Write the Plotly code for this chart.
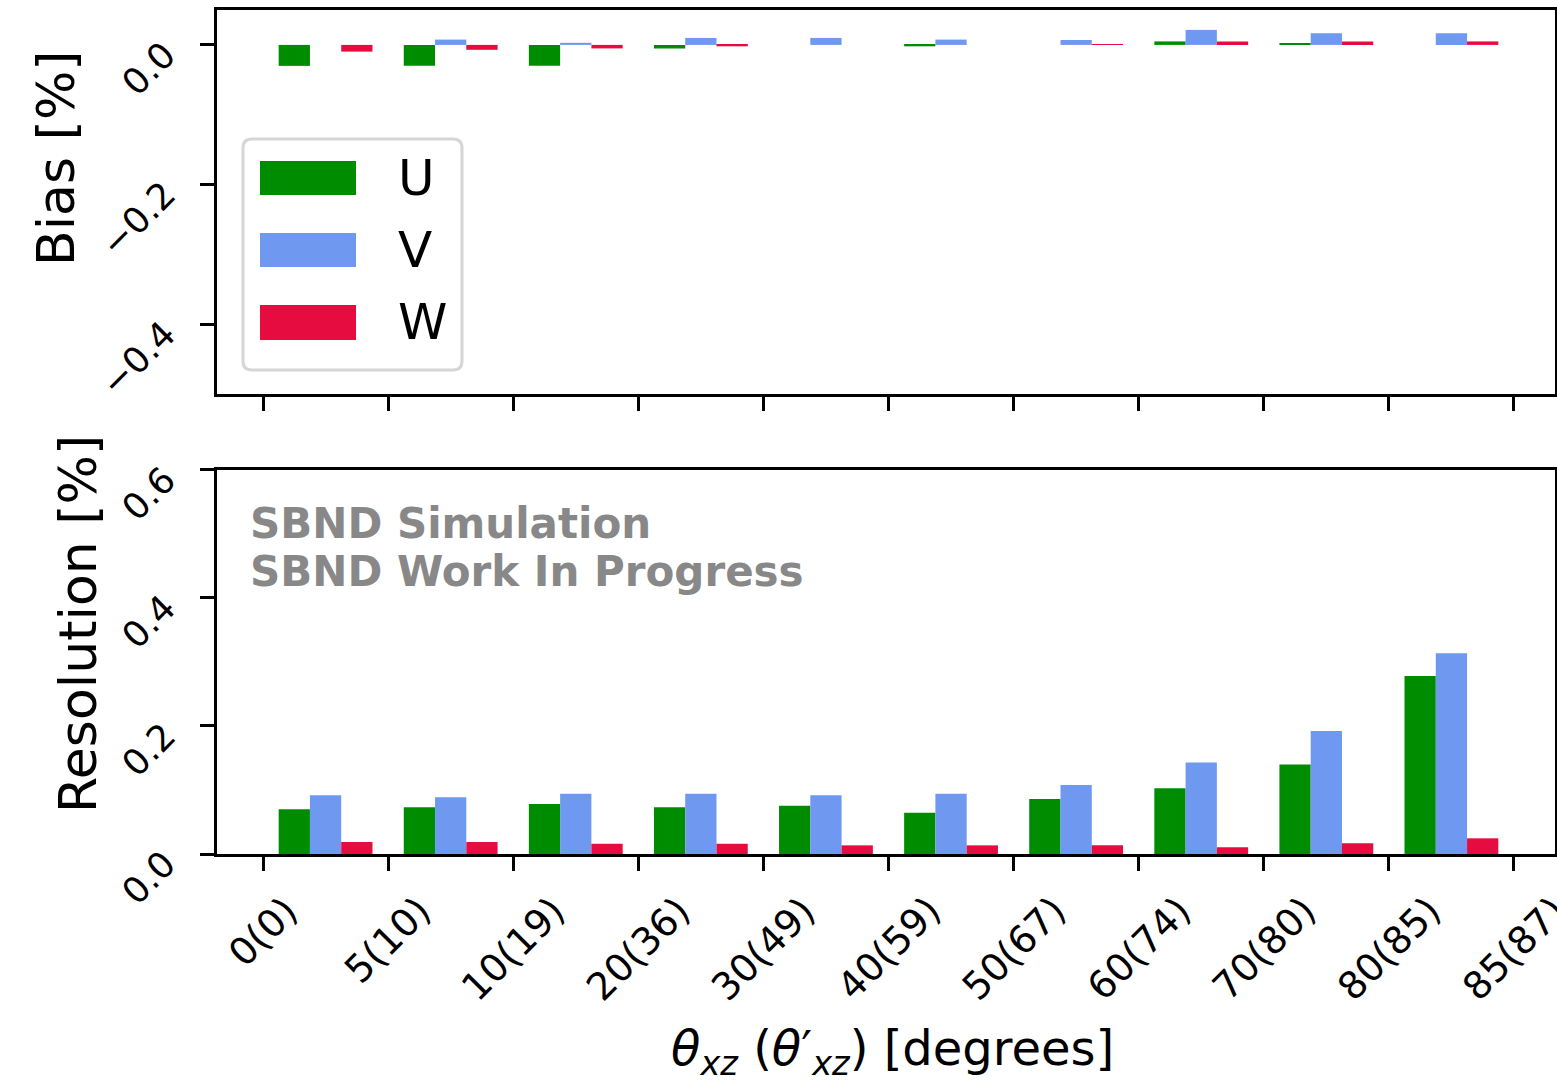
import plotly.graph_objects as go

# ---------------- data ----------------
categories = ["0(0)", "5(10)", "10(19)", "20(36)", "30(49)", "40(59)",
              "50(67)", "60(74)", "70(80)", "80(85)", "85(87)"]
bin_centers = [0.5, 1.5, 2.5, 3.5, 4.5, 5.5, 6.5, 7.5, 8.5, 9.5]

bias_U = [-0.030, -0.030, -0.030, -0.005, 0.000, -0.002, 0.000, 0.005, 0.002, 0.000]
bias_V = [0.000, 0.0076, 0.003, 0.010, 0.010, 0.0076, 0.007, 0.0215, 0.0167, 0.0167]
bias_W = [-0.0096, -0.007, -0.005, -0.002, 0.000, 0.000, 0.001, 0.005, 0.005, 0.005]

res_U = [0.070, 0.073, 0.078, 0.073, 0.0755, 0.0646, 0.086, 0.1026, 0.140, 0.278]
res_V = [0.0917, 0.0885, 0.094, 0.094, 0.0917, 0.094, 0.108, 0.143, 0.192, 0.3135]
res_W = [0.0188, 0.0188, 0.016, 0.016, 0.0135, 0.0135, 0.0135, 0.0104, 0.0167, 0.0245]

planes = ["U", "V", "W"]
colors = {"U": "#008c00", "V": "#6f98f0", "W": "#e60c3f"}

# ---------------- figure ----------------
W, H = 1557, 1084
ML, MR, MT, MB = 217, 2, 10, 230
PW, PH = W - ML - MR, H - MT - MB

def px(x):
    return (x - ML) / PW

def py(y):
    return (H - MB - y) / PH

fig = go.Figure()
for p, vals in zip(planes, [bias_U, bias_V, bias_W]):
    fig.add_trace(go.Bar(x=bin_centers, y=vals, name=p, marker_color=colors[p],
                         marker_line_width=0, xaxis="x", yaxis="y", showlegend=False))
for p, vals in zip(planes, [res_U, res_V, res_W]):
    fig.add_trace(go.Bar(x=bin_centers, y=vals, name=p, marker_color=colors[p],
                         marker_line_width=0, xaxis="x2", yaxis="y2", showlegend=False))

FONT = "DejaVu Sans"
XTICKSIZE = 38
YTICKSIZE = 36
xr = [-0.368, 10.328]
tickvals = list(range(len(categories)))

axis_common = dict(showline=True, linecolor="black", linewidth=2.5, mirror=True,
                   ticks="outside", ticklen=14, tickwidth=2.5, tickcolor="black",
                   showgrid=False, zeroline=False, automargin=False)

fig.update_layout(
    width=W, height=H,
    margin=dict(l=ML, r=MR, t=MT, b=MB, autoexpand=False),
    paper_bgcolor="white", plot_bgcolor="white",
    barmode="group", bargap=0.25, bargroupgap=0,
    font=dict(family=FONT, color="black"),
    xaxis=dict(domain=[0, 1], anchor="y", range=xr, tickvals=tickvals,
               showticklabels=False, **axis_common),
    yaxis=dict(domain=[0.545, 1], anchor="x", range=[-0.5, 0.05],
               tickvals=[0.0, -0.2, -0.4], tickformat=".1f", tickangle=-45,
               tickfont=dict(size=YTICKSIZE, family=FONT), ticklabelshift=5,
               ticklabelstandoff=28, **axis_common),
    xaxis2=dict(domain=[0, 1], anchor="y2", range=xr, tickvals=tickvals,
                showticklabels=False, **axis_common),
    yaxis2=dict(domain=[0, 0.455], anchor="x2", range=[0, 0.6],
                tickvals=[0.0, 0.2, 0.4, 0.6], tickformat=".1f", tickangle=-45,
                tickfont=dict(size=YTICKSIZE, family=FONT), ticklabelshift=5,
                ticklabelstandoff=28, **axis_common),
)

annotations = []
# x tick labels (centered under ticks, rotated 45 deg)
for i, lab in enumerate(categories):
    annotations.append(dict(x=i, xref="x2", y=py(886), yref="paper", text=lab,
                            textangle=-45, xanchor="center", yanchor="top",
                            showarrow=False, font=dict(size=XTICKSIZE, family=FONT)))
# axis titles
annotations.append(dict(x=px(56), y=py(158), xref="paper", yref="paper",
                        text="Bias [%]", textangle=-90, showarrow=False,
                        xanchor="center", yanchor="middle",
                        font=dict(size=52, family=FONT)))
annotations.append(dict(x=px(78), y=py(624), xref="paper", yref="paper",
                        text="Resolution [%]", textangle=-90, showarrow=False,
                        xanchor="center", yanchor="middle",
                        font=dict(size=52, family=FONT)))
annotations.append(dict(x=px(892), y=py(1051), xref="paper", yref="paper",
                        text="<i>θ</i><sub><i>xz</i></sub> (<i>θ</i>′<sub><i>xz</i></sub>) [degrees]",
                        showarrow=False, xanchor="center", yanchor="middle",
                        font=dict(size=48, family=FONT)))
# SBND labels
annotations.append(dict(x=px(248), y=py(523), xref="paper", yref="paper",
                        text="<b>SBND Simulation</b>", showarrow=False,
                        xanchor="left", yanchor="middle",
                        font=dict(size=42, family=FONT, color="#888888")))
annotations.append(dict(x=px(248), y=py(571), xref="paper", yref="paper",
                        text="<b>SBND Work In Progress</b>", showarrow=False,
                        xanchor="left", yanchor="middle",
                        font=dict(size=42, family=FONT, color="#888888")))

# legend (drawn manually to reproduce large swatches)
shapes = []
x0, x1, y0, y1 = px(243), px(462), py(370), py(139)
rx, ry = 9 / PW, 9 / PH
path = (f"M {x0+rx},{y0} L {x1-rx},{y0} Q {x1},{y0} {x1},{y0+ry} "
        f"L {x1},{y1-ry} Q {x1},{y1} {x1-rx},{y1} L {x0+rx},{y1} "
        f"Q {x0},{y1} {x0},{y1-ry} L {x0},{y0+ry} Q {x0},{y0} {x0+rx},{y0} Z")
shapes.append(dict(type="path", xref="paper", yref="paper", path=path,
                   line=dict(color="#d6d6d6", width=3), fillcolor="rgba(255,255,255,0.85)"))
legend_rows = [(161, 195, 178), (233, 267, 250), (305, 340, 322)]
for p, (ya, yb, yc) in zip(planes, legend_rows):
    shapes.append(dict(type="rect", xref="paper", yref="paper",
                       x0=px(260), x1=px(356), y0=py(yb), y1=py(ya),
                       fillcolor=colors[p], line=dict(width=0)))
    annotations.append(dict(x=px(396), y=py(yc), xref="paper", yref="paper",
                            text=p, showarrow=False, xanchor="left", yanchor="middle",
                            font=dict(size=50, family=FONT)))

fig.update_layout(annotations=annotations, shapes=shapes)
fig.write_html("out.html", config={"displayModeBar": False},
               post_script="document.body.style.margin='0';document.body.style.overflow='hidden';")
